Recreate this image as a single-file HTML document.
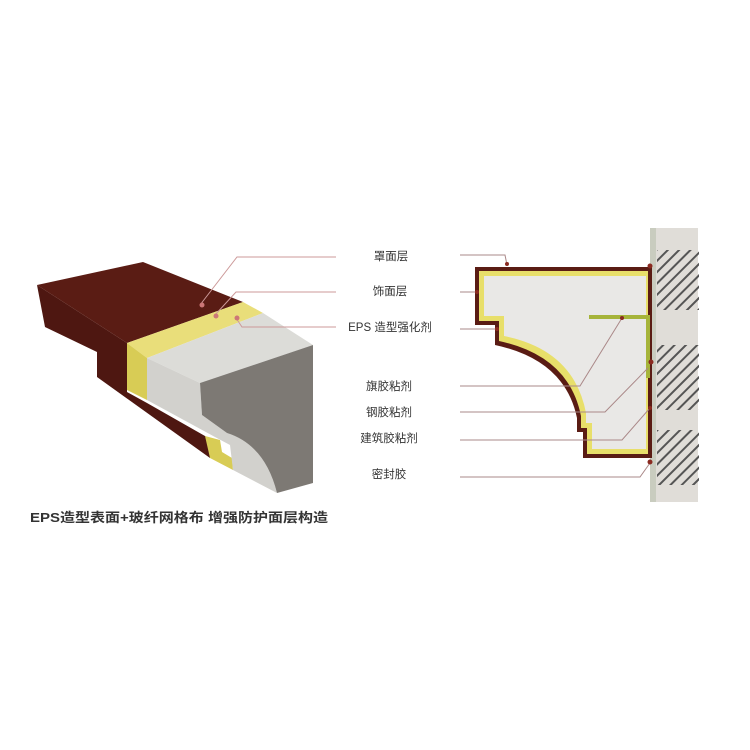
<!DOCTYPE html>
<html><head><meta charset="utf-8"><style>
html,body{margin:0;padding:0;background:#fff;width:750px;height:750px;overflow:hidden}
svg{display:block}
text{font-family:"Liberation Sans","Noto Sans CJK SC",sans-serif;fill:#333}
</style></head><body>
<svg width="750" height="750" viewBox="0 0 750 750" xmlns="http://www.w3.org/2000/svg">
<defs>
<pattern id="hat" width="8" height="8" patternUnits="userSpaceOnUse" patternTransform="rotate(45)">
<rect width="8" height="8" fill="none"/><rect x="0" y="0" width="2" height="8" fill="#555"/>
</pattern>
</defs>
<!-- Left block -->
<polygon points="37,285 45,327 97,352 97,377 210,458 212,440 147,403 127,392 127,343" fill="#4e1711"/>
<polygon points="37,285 143,262 243,302 127,343" fill="#5a1c14"/>
<polygon points="127,343 243,302 263,313 147,358" fill="#e9de7a"/>
<polygon points="127,343 147,358 147,400 127,390" fill="#d8cc55"/>
<polygon points="205,436 220,440 222,452 232,458 233,470 210,458" fill="#d8cc55"/>
<polygon points="147,358 263,313 313,345 200,383" fill="#dcdcd8"/>
<path d="M147,358 L200,383 L202,415 L227,433 Q265,445 277,493 L233,470 L230,445 L215,437 L147,400 Z" fill="#d2d1cd"/>
<path d="M200,383 L313,345 L313,483 L277,493 Q265,445 227,433 L202,415 Z" fill="#7d7974"/>
<!-- leaders left -->
<polyline points="200,305 237,257 336,257" fill="none" stroke="#c99" stroke-width="1"/>
<polyline points="215,315 236,292 336,292" fill="none" stroke="#c99" stroke-width="1"/>
<polyline points="236,318 242,327 336,327" fill="none" stroke="#c99" stroke-width="1"/>
<circle cx="202" cy="305" r="2.5" fill="#c77"/><circle cx="216" cy="316" r="2.5" fill="#c77"/><circle cx="237" cy="318" r="2.5" fill="#c77"/>
<text x="30" y="522" font-size="13" font-weight="bold" fill="#111" textLength="298" lengthAdjust="spacingAndGlyphs">EPS造型表面+玻纤网格布 增强防护面层构造</text>
<!-- Wall -->
<rect x="652" y="228" width="46" height="274" fill="#e0ddd8"/>
<rect x="650" y="228" width="6" height="274" fill="#c9ccbf"/>
<rect x="657" y="250" width="42" height="60" fill="url(#hat)"/>
<rect x="657" y="345" width="42" height="65" fill="url(#hat)"/>
<rect x="657" y="430" width="42" height="55" fill="url(#hat)"/>
<!-- profile -->
<path d="M475,267 H652 V458 H583 V432 H577 V418 Q565,360 495,345 V325 H475 Z" fill="#5a1c14"/>
<path d="M479,271 H648 V454 H587 V428 H581 V416 Q569,356 499,341 V321 H479 Z" fill="#e8df6a"/>
<path d="M484,276 H646 V449 H592 V423 H586 V413 Q574,350 504,336 V316 H484 Z" fill="#e9e8e6"/>
<path d="M589,317 H648 V378" fill="none" stroke="#a6b43a" stroke-width="4"/>
<!-- leaders right -->
<g fill="none" stroke="#a88" stroke-width="1">
<polyline points="460,255 505,255 507,265"/>
<polyline points="460,292 477,292"/>
<polyline points="460,329 497,329"/>
<polyline points="460,386 580,386 622,318"/>
<polyline points="460,412 605,412 648,368"/>
<polyline points="460,440 622,440 650,408"/>
<polyline points="460,477 640,477 650,463"/>
</g>
<g fill="#8a2a20"><circle cx="507" cy="264" r="2"/><circle cx="477" cy="292" r="2"/><circle cx="497" cy="329" r="2"/><circle cx="622" cy="318" r="2"/><circle cx="651" cy="362" r="2.5"/><circle cx="650" cy="408" r="2"/><circle cx="650" cy="462" r="2.5"/><circle cx="650" cy="266" r="2.5"/></g>
<g font-size="11.5" text-anchor="middle">
<text x="391" y="260">罩面层</text>
<text x="390" y="295">饰面层</text>
<text x="390" y="331">EPS 造型强化剂</text>
<text x="389" y="390">旗胶粘剂</text>
<text x="389" y="416">钢胶粘剂</text>
<text x="389" y="442">建筑胶粘剂</text>
<text x="389" y="478">密封胶</text>
</g>
</svg>
</body></html>
